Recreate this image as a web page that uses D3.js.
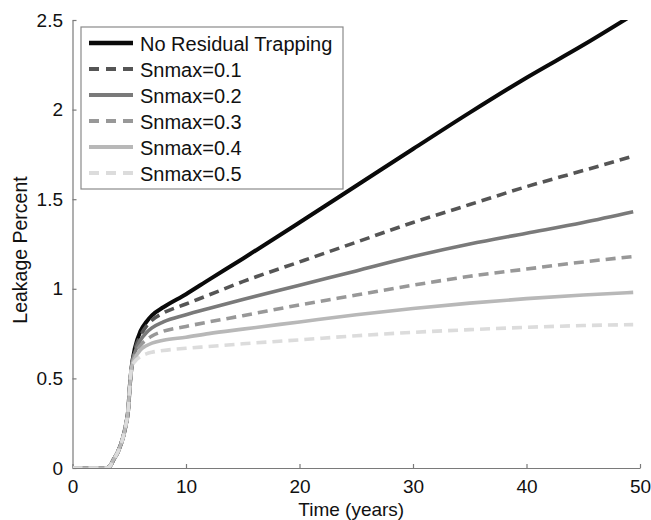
<!DOCTYPE html>
<html>
<head>
<meta charset="utf-8">
<script src="https://cdn.jsdelivr.net/npm/d3@7"></script>
<style>
  html, body { margin: 0; padding: 0; background: #fff; }
  svg { display: block; }
  text { font-family: "Liberation Sans", Arial, sans-serif; fill: #111; }
</style>
</head>
<body>
<script>
const times = [0, 1, 2, 3, 3.3, 3.6, 4, 4.45, 4.7, 4.9, 5.07, 5.2, 5.5, 6, 6.5, 7, 8, 10, 12, 15, 20, 25, 30, 35, 40, 45, 49.4];

const noResidual = [0, 0, 0, 0, 0.01, 0.045, 0.09, 0.17, 0.24, 0.32, 0.475, 0.56, 0.67, 0.765, 0.815, 0.852, 0.897, 0.97, 1.05, 1.168, 1.37, 1.575, 1.78, 1.983, 2.178, 2.36, 2.53];
const snmax01 = [0, 0, 0, 0, 0.01, 0.045, 0.09, 0.17, 0.24, 0.32, 0.475, 0.56, 0.66, 0.74, 0.79, 0.825, 0.865, 0.915, 0.965, 1.04, 1.15, 1.26, 1.37, 1.47, 1.57, 1.66, 1.74];
const snmax02 = [0, 0, 0, 0, 0.01, 0.045, 0.09, 0.17, 0.24, 0.32, 0.475, 0.56, 0.645, 0.715, 0.755, 0.782, 0.815, 0.855, 0.89, 0.94, 1.02, 1.10, 1.18, 1.25, 1.31, 1.37, 1.43];
const snmax03 = [0, 0, 0, 0, 0.01, 0.045, 0.09, 0.17, 0.24, 0.32, 0.475, 0.56, 0.63, 0.685, 0.715, 0.737, 0.763, 0.79, 0.815, 0.85, 0.91, 0.965, 1.02, 1.07, 1.11, 1.15, 1.18];
const snmax04 = [0, 0, 0, 0, 0.01, 0.045, 0.09, 0.17, 0.24, 0.32, 0.475, 0.56, 0.612, 0.66, 0.682, 0.697, 0.713, 0.73, 0.75, 0.775, 0.815, 0.855, 0.89, 0.92, 0.945, 0.965, 0.98];
const snmax05 = [0, 0, 0, 0, 0.01, 0.045, 0.09, 0.17, 0.24, 0.32, 0.475, 0.56, 0.595, 0.622, 0.637, 0.646, 0.656, 0.668, 0.678, 0.693, 0.715, 0.738, 0.757, 0.772, 0.785, 0.795, 0.80];

const seriesNames = ["No Residual Trapping", "Snmax=0.1", "Snmax=0.2", "Snmax=0.3", "Snmax=0.4", "Snmax=0.5"];
const seriesValues = [noResidual, snmax01, snmax02, snmax03, snmax04, snmax05];
const seriesColors = ["#0a0a0a", "#555555", "#7a7a7a", "#989898", "#b8b8b8", "#dcdcdc"];
const seriesDashed = [false, true, false, true, false, true];

const xTicks = [0, 10, 20, 30, 40, 50];
const yTicks = [0, 0.5, 1, 1.5, 2, 2.5];
const xLabel = "Time (years)";
const yLabel = "Leakage Percent";

const W = 651, H = 520;
const svg = d3.select("body").append("svg").attr("width", W).attr("height", H);

const x = d3.scaleLinear().domain([0, 50]).range([72.5, 640]);
const y = d3.scaleLinear().domain([0, 2.5]).range([468, 20]);

const FONT = '"Liberation Sans", Arial, sans-serif';
const tickFont = 19;
const labelFont = 19;
const legendFont = 20;
const axisColor = "#7a7a7a";

svg.append("defs").append("clipPath").attr("id", "plotclip")
  .append("rect").attr("x", x(0)).attr("y", y(2.5)).attr("width", x(50) - x(0)).attr("height", y(0) - y(2.5));

// axes
const xAxis = d3.axisBottom(x).tickValues(xTicks).tickSizeInner(-4).tickSizeOuter(0).tickPadding(12).tickFormat(d => String(d));
const yAxis = d3.axisLeft(y).tickValues(yTicks).tickSizeInner(-4).tickSizeOuter(0).tickPadding(9.5).tickFormat(d => String(d));

const gx = svg.append("g").attr("transform", `translate(0,${y(0)})`).call(xAxis);
const gy = svg.append("g").attr("transform", `translate(${x(0)},0)`).call(yAxis);
[gx, gy].forEach(g => {
  g.select(".domain").attr("stroke", axisColor).attr("stroke-width", 1.2);
  g.selectAll(".tick line").attr("stroke", axisColor).attr("stroke-width", 1.2);
  g.selectAll(".tick text").attr("font-size", tickFont).attr("font-family", FONT).attr("fill", "#111");
});

// lines
const line = d3.line().x((d, i) => x(times[i])).y(d => y(d)).curve(d3.curveMonotoneX);
const plot = svg.append("g").attr("clip-path", "url(#plotclip)");
seriesValues.forEach((vals, k) => {
  plot.append("path")
    .attr("d", line(vals))
    .attr("fill", "none")
    .attr("stroke", seriesColors[k])
    .attr("stroke-width", k === 0 ? 4 : 3.6)
    .attr("stroke-dasharray", seriesDashed[k] ? "10,6" : null);
});

// axis labels
svg.append("text").attr("x", (x(0) + x(50)) / 2 - 5).attr("y", 515.5)
  .attr("text-anchor", "middle").attr("font-size", labelFont).text(xLabel);
svg.append("text").attr("transform", `translate(27,${(y(0) + y(2.5)) / 2 + 6}) rotate(-90)`)
  .attr("text-anchor", "middle").attr("font-size", labelFont + 0.5).text(yLabel);

// legend
const lg = svg.append("g");
lg.append("rect").attr("x", 81).attr("y", 27).attr("width", 262).attr("height", 162)
  .attr("fill", "#fff").attr("stroke", "#8a8a8a").attr("stroke-width", 1.2);
seriesNames.forEach((name, k) => {
  const base = 51 + k * 26;
  lg.append("line").attr("x1", 89).attr("x2", 133).attr("y1", base - 8).attr("y2", base - 8)
    .attr("stroke", seriesColors[k]).attr("stroke-width", k === 0 ? 4.5 : 4)
    .attr("stroke-dasharray", seriesDashed[k] ? "10,7" : null);
  lg.append("text").attr("x", 140).attr("y", base).attr("font-size", legendFont).text(name);
});
</script>
</body>
</html>
